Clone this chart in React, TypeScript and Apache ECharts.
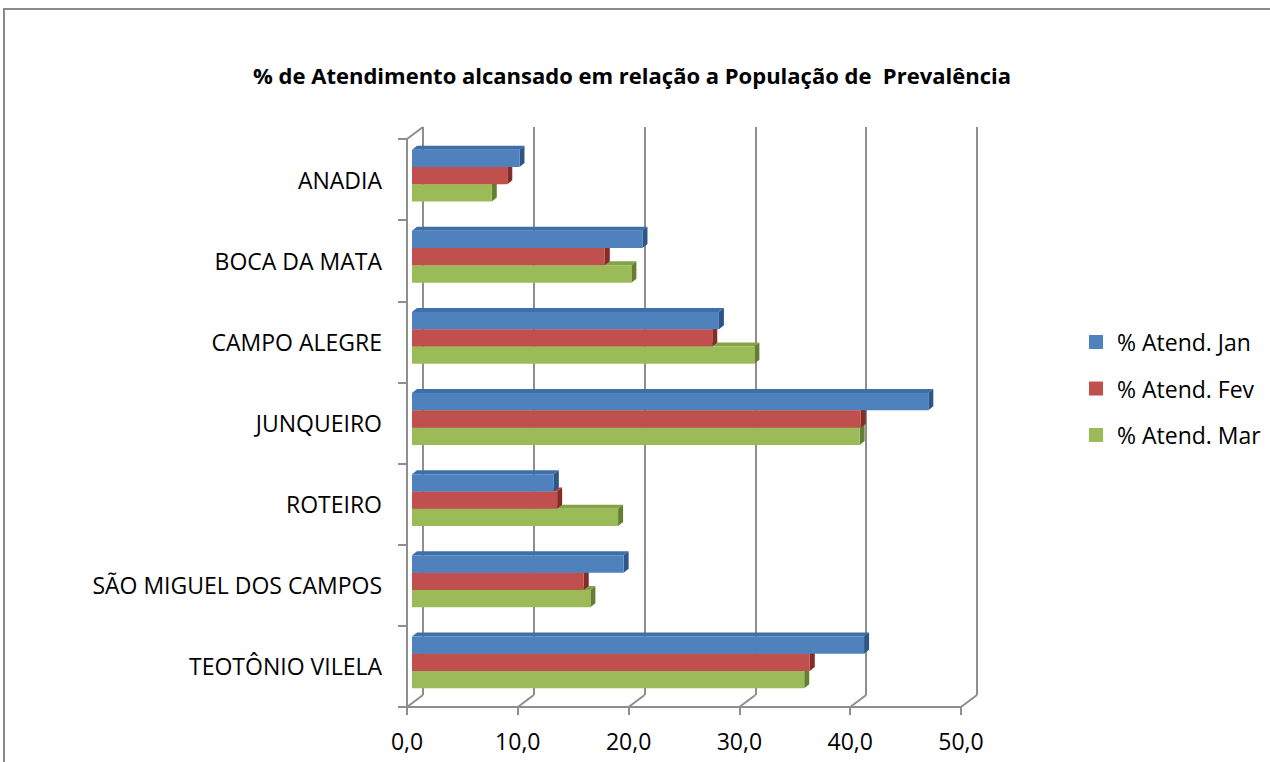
import React, { useEffect, useRef } from "react";
import * as echarts from "echarts";

const categories = [
  "ANADIA",
  "BOCA DA MATA",
  "CAMPO ALEGRE",
  "JUNQUEIRO",
  "ROTEIRO",
  "SÃO MIGUEL DOS CAMPOS",
  "TEOTÔNIO VILELA",
];
const seriesNames = ["% Atend. Jan", "% Atend. Fev", "% Atend. Mar"];
const janValues = [9.7, 20.8, 27.7, 46.6, 12.8, 19.1, 40.8];
const fevValues = [8.6, 17.4, 27.1, 40.5, 13.1, 15.5, 35.9];
const marValues = [7.2, 19.8, 30.9, 40.4, 18.6, 16.1, 35.4];
const xTicks = [0, 10, 20, 30, 40, 50];

const palettes = [
  { front: "#4F81BD", top: "#3F6EA8", side: "#2D5586" },
  { front: "#C0504D", top: "#A8413E", side: "#842C2A" },
  { front: "#9BBB59", top: "#84A347", side: "#647F31" },
];

const FONT = "'Open Sans', 'Noto Sans', sans-serif";
const GRID = { left: 407, top: 139, width: 554, height: 568 };
const DEPTH = { dx: 16, dy: -12 };
const FACE = { dx: 5, dy: -4 };
const BAR_DEPTH = { dx: 5, dy: -4 };
const BAR_FRAC = 0.213;
const AXIS_COLOR = "#8E8E8E";

export default function App() {
  const ref = useRef<HTMLDivElement>(null);
  useEffect(() => {
    if (!ref.current) return;
    const chart = echarts.init(ref.current, null, { renderer: "svg" });
    const all = [janValues, fevValues, marValues];

    const makeRender = (sIdx: number) => (params: any, api: any) => {
      const v = api.value(0);
      const c = api.value(1);
      const p0 = api.coord([0, c]);
      const p1 = api.coord([v, c]);
      const band = api.size([0, 1])[1];
      const h = band * BAR_FRAC;
      const top = p0[1] - 1.5 * h + sIdx * h;
      const x0 = p0[0] + FACE.dx;
      const x1 = p1[0] + FACE.dx;
      const y0 = top + FACE.dy;
      const y1 = y0 + h;
      const col = palettes[sIdx];
      return {
        type: "group",
        children: [
          {
            type: "polygon",
            shape: {
              points: [
                [x0, y0],
                [x1, y0],
                [x1 + BAR_DEPTH.dx, y0 + BAR_DEPTH.dy],
                [x0 + BAR_DEPTH.dx, y0 + BAR_DEPTH.dy],
              ],
            },
            style: { fill: col.top },
          },
          {
            type: "polygon",
            shape: {
              points: [
                [x1, y0],
                [x1 + BAR_DEPTH.dx, y0 + BAR_DEPTH.dy],
                [x1 + BAR_DEPTH.dx, y1 + BAR_DEPTH.dy],
                [x1, y1],
              ],
            },
            style: { fill: col.side },
          },
          {
            type: "rect",
            shape: { x: x0, y: y0, width: x1 - x0, height: h },
            style: { fill: col.front },
          },
        ],
      };
    };

    const series: any[] = all.map((vals, sIdx) => ({
      type: "custom",
      name: seriesNames[sIdx],
      xAxisIndex: 0,
      yAxisIndex: 0,
      z: 10 - sIdx,
      itemStyle: { color: palettes[sIdx].front },
      encode: { x: 0, y: 1 },
      data: vals.map((v, i) => [v, i]),
      renderItem: makeRender(sIdx),
    }));

    const fmt = (v: number) => v.toFixed(1).replace(".", ",");

    chart.setOption({
      animation: false,
      backgroundColor: "#ffffff",
      title: {
        text: "% de Atendimento alcansado em relação a População de  Prevalência",
        left: 632,
        top: 64,
        textAlign: "center",
        padding: 0,
        textStyle: {
          fontFamily: FONT,
          fontSize: 22,
          fontWeight: "bold",
          color: "#000000",
        },
      },
      legend: {
        orient: "vertical",
        left: 1089,
        top: 330,
        padding: 0,
        itemWidth: 14,
        itemHeight: 14,
        itemGap: 22.5,
        icon: "rect",
        data: seriesNames,
        textStyle: {
          fontFamily: FONT,
          fontSize: 23,
          color: "#000000",
          padding: [0, 0, 0, 9],
          lineHeight: 24,
        },
      },
      grid: [
        { ...GRID },
        {
          left: GRID.left + DEPTH.dx,
          top: GRID.top + DEPTH.dy,
          width: GRID.width,
          height: GRID.height,
        },
      ],
      xAxis: [
        {
          type: "value",
          gridIndex: 0,
          min: 0,
          max: 50,
          interval: 10,
          axisLine: { show: true, lineStyle: { color: AXIS_COLOR, width: 2 } },
          axisTick: {
            show: true,
            length: 8,
            lineStyle: { color: AXIS_COLOR, width: 2 },
          },
          axisLabel: {
            formatter: fmt,
            fontFamily: FONT,
            fontSize: 23,
            color: "#000000",
            margin: 22,
          },
          splitLine: { show: false },
        },
        {
          type: "value",
          gridIndex: 1,
          min: 0,
          max: 50,
          interval: 10,
          axisLine: { show: false },
          axisTick: { show: false },
          axisLabel: { show: false },
          splitLine: {
            show: true,
            lineStyle: { color: AXIS_COLOR, width: 2 },
          },
        },
      ],
      yAxis: [
        {
          type: "category",
          gridIndex: 0,
          data: categories,
          inverse: true,
          axisLine: { show: true, lineStyle: { color: AXIS_COLOR, width: 2 } },
          axisTick: {
            show: true,
            length: 9,
            lineStyle: { color: AXIS_COLOR, width: 2 },
          },
          axisLabel: {
            fontFamily: FONT,
            fontSize: 23,
            color: "#000000",
            margin: 25,
          },
          splitLine: { show: false },
        },
        {
          type: "category",
          gridIndex: 1,
          data: categories,
          inverse: true,
          show: false,
        },
      ],
      series,
    });

    // perspective edges (floor diagonals and top-left wall edge), derived from axes
    const lines: any[] = [];
    xTicks.forEach((t) => {
      const f = chart.convertToPixel({ xAxisIndex: 0 }, t) as number;
      const bottom = GRID.top + GRID.height;
      lines.push({
        type: "line",
        shape: { x1: f, y1: bottom, x2: f + DEPTH.dx, y2: bottom + DEPTH.dy },
        style: { stroke: AXIS_COLOR, lineWidth: 2 },
        z: 1,
      });
    });
    lines.push({
      type: "line",
      shape: {
        x1: GRID.left,
        y1: GRID.top,
        x2: GRID.left + DEPTH.dx,
        y2: GRID.top + DEPTH.dy,
      },
      style: { stroke: AXIS_COLOR, lineWidth: 2 },
      z: 1,
    });
    lines.push({
      type: "rect",
      shape: { x: 4, y: 9, width: 1400, height: 900 },
      style: { fill: "none", stroke: "#8A8A8A", lineWidth: 2 },
      z: 0,
    });
    chart.setOption({ graphic: lines });

    return () => chart.dispose();
  }, []);

  return (
    <div
      ref={ref}
      style={{ position: "fixed", left: 0, top: 0, width: 1270, height: 762 }}
    />
  );
}
